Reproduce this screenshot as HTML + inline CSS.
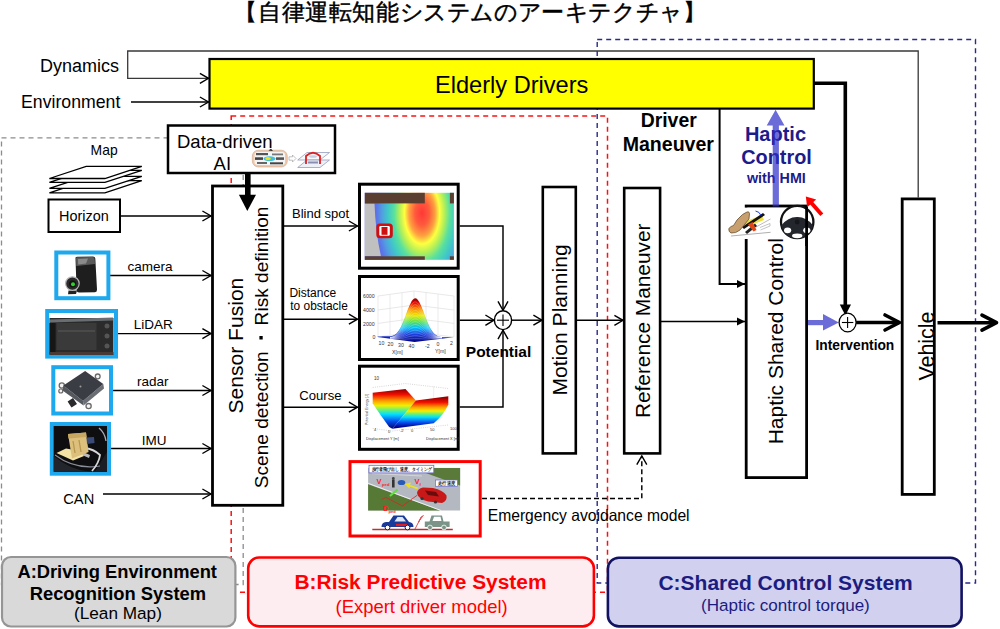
<!DOCTYPE html><html lang="ja"><head><meta charset="utf-8"><title>Architecture</title><style>
html,body{margin:0;padding:0;background:#fff;width:1000px;height:629px;overflow:hidden}svg{display:block}
text{font-family:"Liberation Sans", sans-serif}
</style></head><body>
<svg width="1000" height="629" viewBox="0 0 1000 629">
<defs><radialGradient id="heat" cx="422" cy="213" r="50" gradientUnits="userSpaceOnUse" gradientTransform="translate(422 213) scale(1 1.76) translate(-422 -213)"><stop offset="0" stop-color="#ff3838"/><stop offset="0.14" stop-color="#ff5a3c"/><stop offset="0.26" stop-color="#ffa040"/><stop offset="0.35" stop-color="#ffff40"/><stop offset="0.45" stop-color="#b4f058"/><stop offset="0.56" stop-color="#58e0a0"/><stop offset="0.68" stop-color="#40c8c8"/><stop offset="0.8" stop-color="#50a0e0"/><stop offset="0.9" stop-color="#5a78e8"/><stop offset="1" stop-color="#6262e4"/></radialGradient><linearGradient id="jetv" x1="0" y1="0" x2="0" y2="1"><stop offset="0" stop-color="#8b0000"/><stop offset="0.12" stop-color="#e01010"/><stop offset="0.28" stop-color="#ff8000"/><stop offset="0.42" stop-color="#f0f000"/><stop offset="0.55" stop-color="#40e080"/><stop offset="0.68" stop-color="#00c8ff"/><stop offset="0.85" stop-color="#1050f0"/><stop offset="1" stop-color="#000090"/></linearGradient><linearGradient id="jetg" x1="0" y1="298" x2="0" y2="342" gradientUnits="userSpaceOnUse"><stop offset="0" stop-color="#800000"/><stop offset="0.1" stop-color="#e00000"/><stop offset="0.25" stop-color="#ff8c00"/><stop offset="0.4" stop-color="#e8e800"/><stop offset="0.55" stop-color="#50e060"/><stop offset="0.68" stop-color="#00c0ff"/><stop offset="0.82" stop-color="#2040e0"/><stop offset="1" stop-color="#000080"/></linearGradient><linearGradient id="jetL" x1="0" y1="390" x2="0" y2="429" gradientUnits="userSpaceOnUse"><stop offset="0" stop-color="#a00000"/><stop offset="0.12" stop-color="#f01000"/><stop offset="0.28" stop-color="#ffa000"/><stop offset="0.4" stop-color="#f0f000"/><stop offset="0.52" stop-color="#60f080"/><stop offset="0.62" stop-color="#00e0ff"/><stop offset="0.8" stop-color="#0050f0"/><stop offset="1" stop-color="#000070"/></linearGradient><linearGradient id="jetR" x1="0" y1="398" x2="0" y2="427" gradientUnits="userSpaceOnUse"><stop offset="0" stop-color="#a00000"/><stop offset="0.15" stop-color="#f01000"/><stop offset="0.32" stop-color="#ffa000"/><stop offset="0.45" stop-color="#f0f000"/><stop offset="0.56" stop-color="#60f080"/><stop offset="0.66" stop-color="#00e0ff"/><stop offset="0.84" stop-color="#0050f0"/><stop offset="1" stop-color="#000090"/></linearGradient></defs>
<text y="20" font-size="22.5" font-weight="normal" fill="#000" stroke="#000" stroke-width="0.45"><tspan x="234.4">【</tspan><tspan x="258.0">自</tspan><tspan x="281.6">律</tspan><tspan x="305.2">運</tspan><tspan x="328.8">転</tspan><tspan x="352.4">知</tspan><tspan x="376.0">能</tspan><tspan x="399.6">シ</tspan><tspan x="423.2">ス</tspan><tspan x="446.8">テ</tspan><tspan x="470.4">ム</tspan><tspan x="494.0">の</tspan><tspan x="517.6">ア</tspan><tspan x="541.2">ー</tspan><tspan x="564.8">キ</tspan><tspan x="588.4">テ</tspan><tspan x="612.0">ク</tspan><tspan x="635.6">チ</tspan><tspan x="659.2">ャ</tspan><tspan x="682.8">】</tspan></text>
<rect x="1.5" y="137.8" width="241.7" height="446.7" rx="0" fill="none" stroke="#8c8c8c" stroke-width="1.3" stroke-dasharray="5 4"/>
<rect x="231.2" y="116" width="376.3" height="476.20000000000005" rx="0" fill="none" stroke="#ff1010" stroke-width="1.5" stroke-dasharray="5 4"/>
<rect x="597.2" y="39.5" width="378.29999999999995" height="543.5" rx="0" fill="none" stroke="#2a2a8a" stroke-width="1.4" stroke-dasharray="5 4"/>
<polyline points="208.5,78.3 127.7,78.3 127.7,51 918.2,51 918.2,197.5" fill="none" stroke="#383838" stroke-width="1.3" />
<path d="M199.9 73.3 L208.5 78.3 L199.9 83.3" fill="none" stroke="#000" stroke-width="1.4"/>
<line x1="131" y1="102" x2="208.5" y2="102" stroke="#000" stroke-width="1.45" />
<path d="M199.9 97 L208.5 102 L199.9 107" fill="none" stroke="#000" stroke-width="1.4"/>
<text x="40" y="71.7" font-size="18" font-weight="normal" fill="#000" text-anchor="start" >Dynamics</text>
<text x="21" y="107.5" font-size="17.7" font-weight="normal" fill="#000" text-anchor="start" >Environment</text>
<rect x="209.5" y="59" width="604.3" height="49.599999999999994" rx="0" fill="#ffff00" stroke="#000" stroke-width="2.2"/>
<text x="435" y="93" font-size="23.6" font-weight="normal" fill="#000" text-anchor="start" >Elderly Drivers</text>
<rect x="168" y="125.5" width="167" height="47.5" rx="0" fill="#fff" stroke="#000" stroke-width="2.5"/>
<text x="177" y="148.3" font-size="18.5" font-weight="normal" fill="#000" text-anchor="start" >Data-driven</text>
<text x="213.6" y="169.5" font-size="18.5" font-weight="normal" fill="#000" text-anchor="start" >AI</text>
<g><rect x="252.3" y="150.2" width="35" height="16.8" rx="6" fill="#f3c8a8" stroke="#c8a890" stroke-width="0.6"/><rect x="254.5" y="152" width="30.5" height="13" rx="3" fill="#f4f4f4"/><rect x="256" y="153" width="12" height="2.2" fill="#555"/><rect x="272" y="153.5" width="11" height="1.8" fill="#777"/><rect x="255" y="157.3" width="8" height="2.6" fill="#444"/><rect x="276" y="157.3" width="8" height="2.6" fill="#555"/><rect x="257" y="162" width="10" height="2" fill="#666"/><rect x="270" y="162.3" width="13" height="2" fill="#444"/><ellipse cx="269.5" cy="158.7" rx="6" ry="2.4" fill="#40c0e0"/><ellipse cx="268" cy="158.5" rx="2.8" ry="1.6" fill="#f0e020"/><path d="M268.5 150.5 L271 148.8 L273 151" fill="#222"/><path d="M289 156.8 L292.5 156.8 L292.5 155 L296 158.5 L292.5 162 L292.5 160.2 L289 160.2 Z" fill="#fff" stroke="#999" stroke-width="0.6"/><path d="M297.7 160 L307 152.5 L329.5 152.5 L320 160 Z" fill="#f6f8fc" stroke="#8890b0" stroke-width="0.7"/><path d="M297.7 167.5 L307 160 L329.5 160 L320 167.5 Z" fill="#eef0f8" stroke="#8890b0" stroke-width="0.7"/><path d="M306 164 L306 156 Q313 149.5 320 156 L320 164" fill="none" stroke="#e02020" stroke-width="1.8"/><ellipse cx="313" cy="156.5" rx="4" ry="1.3" fill="#c8cce0"/><rect x="308" y="161.5" width="10" height="2" fill="#8890b0"/></g>
<path d="M49.4 192.8 L86.2 180.70000000000002 L141.8 180.70000000000002 L104.9 192.8 Z" fill="#fff" stroke="#000" stroke-width="1.3"/>
<path d="M49.4 188.4 L86.2 176.3 L141.8 176.3 L104.9 188.4 Z" fill="#fff" stroke="#000" stroke-width="1.3"/>
<path d="M49.4 182.4 L86.2 170.3 L141.8 170.3 L104.9 182.4 Z" fill="#fff" stroke="#000" stroke-width="1.3"/>
<path d="M49.4 178.5 L86.2 166.4 L141.8 166.4 L104.9 178.5 Z" fill="#fff" stroke="#000" stroke-width="1.3"/>
<text x="90.6" y="155.4" font-size="13.9" font-weight="normal" fill="#000" text-anchor="start" >Map</text>
<rect x="48.5" y="199.5" width="71.5" height="32.5" rx="0" fill="#fff" stroke="#000" stroke-width="2"/>
<text x="59.1" y="221" font-size="14.45" font-weight="normal" fill="#000" text-anchor="start" >Horizon</text>
<rect x="212.5" y="186" width="70.30000000000001" height="319.3" rx="0" fill="#fff" stroke="#000" stroke-width="2.8"/>
<text transform="translate(243.1 413.5) rotate(-90)" x="0" y="0" font-size="21.07" font-weight="normal" fill="#000" >Sensor Fusion</text>
<text transform="translate(267.7 488.2) rotate(-90)" x="0" y="0" font-size="19.1" font-weight="normal" fill="#000" >Scene detection</text>
<text transform="translate(267.7 325.4) rotate(-90)" x="0" y="0" font-size="19.1" font-weight="normal" fill="#000" >Risk definition</text>
<rect x="259.4" y="336" width="3.3" height="3.5" fill="#000"/>
<line x1="121" y1="216" x2="211" y2="216" stroke="#000" stroke-width="1.45" />
<path d="M202.4 211 L211 216 L202.4 221" fill="none" stroke="#000" stroke-width="1.4"/>
<line x1="110" y1="275.5" x2="211" y2="275.5" stroke="#000" stroke-width="1.45" />
<path d="M202.4 270.5 L211 275.5 L202.4 280.5" fill="none" stroke="#000" stroke-width="1.4"/>
<text x="127.4" y="270.5" font-size="13.5" font-weight="normal" fill="#000" text-anchor="start" >camera</text>
<line x1="118" y1="333.6" x2="211" y2="333.6" stroke="#000" stroke-width="1.45" />
<path d="M202.4 328.6 L211 333.6 L202.4 338.6" fill="none" stroke="#000" stroke-width="1.4"/>
<text x="133.8" y="329.3" font-size="13.5" font-weight="normal" fill="#000" text-anchor="start" >LiDAR</text>
<line x1="113" y1="390.5" x2="211" y2="390.5" stroke="#000" stroke-width="1.45" />
<path d="M202.4 385.5 L211 390.5 L202.4 395.5" fill="none" stroke="#000" stroke-width="1.4"/>
<text x="137" y="385.5" font-size="13.5" font-weight="normal" fill="#000" text-anchor="start" >radar</text>
<line x1="111" y1="448.5" x2="211" y2="448.5" stroke="#000" stroke-width="1.45" />
<path d="M202.4 443.5 L211 448.5 L202.4 453.5" fill="none" stroke="#000" stroke-width="1.4"/>
<text x="141.7" y="444.7" font-size="13.5" font-weight="normal" fill="#000" text-anchor="start" >IMU</text>
<line x1="103" y1="494" x2="211" y2="494" stroke="#000" stroke-width="1.45" />
<path d="M202.4 489 L211 494 L202.4 499" fill="none" stroke="#000" stroke-width="1.4"/>
<text x="63.3" y="503.8" font-size="14.65" font-weight="normal" fill="#000" text-anchor="start" >CAN</text>
<rect x="56.3" y="252.5" width="52.10000000000001" height="45.69999999999999" rx="0" fill="#fff" stroke="#1ea8ee" stroke-width="4"/>
<rect x="47.2" y="311" width="68.8" height="45.60000000000002" rx="0" fill="#fff" stroke="#1ea8ee" stroke-width="4"/>
<rect x="53.3" y="367.2" width="57.7" height="46.30000000000001" rx="0" fill="#fff" stroke="#1ea8ee" stroke-width="4"/>
<rect x="51.8" y="424" width="57.2" height="49.69999999999999" rx="0" fill="#1a1a1a" stroke="#1ea8ee" stroke-width="4"/>
<g><path d="M75.5 258.5 Q75 256.8 77 256.8 L93 256.6 Q95 256.6 95.3 258.5 L97 289.5 Q97.2 292 95 292.2 L79 292.5 Q76.8 292.5 76.6 290.3 Z" fill="#1e1e1e"/><path d="M76 258.5 Q76 257.2 77.5 257.2 L92.5 257 Q94.5 257 94.7 259 L95 264 L76.3 266 Z" fill="#5a5a5a"/><path d="M78 259 L88 258.6 L86 263.5 L78.2 264.5 Z" fill="#8a8a8a"/><path d="M68.5 290.5 L77 290.5 L76 294 L68 294.3 Z" fill="#222"/><circle cx="72.4" cy="283.6" r="6.8" fill="#2a2a2a" stroke="#b8b8b8" stroke-width="1.2"/><circle cx="72.6" cy="283.8" r="3.6" fill="#101410"/><circle cx="73" cy="284.2" r="2" fill="#30d030"/></g>
<g><rect x="49.5" y="318" width="64" height="37" fill="#2b2b2b"/><path d="M50 319.5 L113 317.5 L113 320.5 L50 322.5 Z" fill="#6a6e72"/><rect x="56.5" y="323" width="40" height="27" fill="#3a3a3a"/><rect x="58" y="330" width="37" height="2" fill="#4a4a4a"/><rect x="49.5" y="323" width="6" height="31" fill="#161616"/><circle cx="107" cy="326" r="2.5" fill="#555"/><circle cx="107" cy="336" r="2.5" fill="#555"/><circle cx="107" cy="346" r="2.5" fill="#555"/><rect x="49.5" y="352" width="64" height="3" fill="#4a3a36"/></g>
<g><circle cx="61.8" cy="385.5" r="2.6" fill="#f4f4f4" stroke="#6a6a6a" stroke-width="1.3"/><circle cx="60.8" cy="391" r="2" fill="#f4f4f4" stroke="#6a6a6a" stroke-width="1.2"/><circle cx="97.7" cy="376.4" r="2.4" fill="#f4f4f4" stroke="#6a6a6a" stroke-width="1.3"/><circle cx="88.6" cy="406.1" r="2.6" fill="#f4f4f4" stroke="#6a6a6a" stroke-width="1.3"/><path d="M63.4 385.5 L83 400.9 L83.5 405.5 L62.5 390.5 Z" fill="#55585e"/><path d="M83 400.9 L103.3 384.1 L104 388.5 L83.5 405.5 Z" fill="#6a6e74"/><path d="M85.1 371.1 L103.3 384.1 L83 400.9 L63.4 385.5 Z" fill="#3a3d43"/><path d="M67.6 401.6 L73 398 L77 404 L71.5 407.4 Z" fill="#2a2a2c"/><circle cx="80.5" cy="386.5" r="1" fill="#9a9a9a"/></g>
<g><rect x="53.8" y="426" width="53.2" height="45.7" fill="#0e0e10"/><path d="M53.8 456 Q70 470 90 471.7 L53.8 471.7 Z" fill="#23252c"/><path d="M95 471.7 Q102 460 107 452 L107 471.7 Z" fill="#1c1e26"/><path d="M55 455 Q75 470 100 466" fill="none" stroke="#8a8e98" stroke-width="1.1"/><path d="M84 448 Q94 449 100 455 Q99 463 92 471" fill="none" stroke="#d8d8d8" stroke-width="1.8"/><path d="M83 452 L90 455 L89 458 L82 455 Z" fill="#bbb"/><path d="M56.5 453 L66 448.5 L80 451 L84 456 L73 460.5 Z" fill="#f2e2a4"/><path d="M68 434 L86 432.5 L88.6 452 L72 458.4 Z" fill="#dcc07c"/><path d="M68 434 L86 432.5 L86.5 437 L68.5 438.5 Z" fill="#c8a860"/><path d="M86.5 437.5 L94 437 L94.5 443 L87 444 Z" fill="#3a4a78"/><path d="M73 441 L75 453 M79 440 L81 452" stroke="#b89850" stroke-width="1.3"/><path d="M99 428 Q105 433 106 441" fill="none" stroke="#aab" stroke-width="1.3"/></g>
<rect x="245" y="173" width="5.6" height="22" fill="#000"/>
<path d="M238.9 194.8 L256 194.8 L247.3 211 Z" fill="#000"/>
<rect x="359.5" y="184.2" width="98.69999999999999" height="84.0" rx="0" fill="#fff" stroke="#000" stroke-width="3"/>
<rect x="359.5" y="276.5" width="98.69999999999999" height="83.0" rx="0" fill="#fff" stroke="#000" stroke-width="3"/>
<rect x="359.5" y="366.2" width="98.69999999999999" height="83.10000000000002" rx="0" fill="#fff" stroke="#000" stroke-width="3"/>
<rect x="350" y="461.6" width="130.2" height="74.39999999999998" rx="0" fill="#fff" stroke="#ff0000" stroke-width="3"/>
<g><rect x="364.8" y="192.8" width="89.1" height="67" fill="url(#heat)"/><path d="M364.8 203.4 L374.5 203.4 Q375.5 232 381 256.3 L364.8 256.3 Z" fill="#c0c0c0"/><rect x="364.8" y="192.8" width="60" height="10.6" fill="#5a3e30"/><rect x="449.9" y="192.8" width="4" height="10.6" fill="#5a3e30"/><rect x="364.8" y="256.3" width="60" height="3.5" fill="#5a3e30"/><rect x="449.9" y="256.3" width="4" height="3.5" fill="#5a3e30"/><rect x="376.3" y="223.5" width="16.5" height="14.7" rx="3.5" fill="#d01010"/><rect x="379.3" y="226" width="10.5" height="9.8" rx="1.2" fill="#fff"/><rect x="381.5" y="227" width="6" height="7.8" fill="#d01010"/></g>
<g font-family="Liberation Serif, serif" font-size="5.2" fill="#333"><path d="M378 296 L414 291 L454 296" fill="none" stroke="#d8d8d8" stroke-width="0.6"/><path d="M378 310 L414 305 L454 310" fill="none" stroke="#d8d8d8" stroke-width="0.6"/><path d="M378 323.4 L414 318.4 L454 323.4" fill="none" stroke="#d8d8d8" stroke-width="0.6"/><path d="M378 337 L414 332 L454 337" fill="none" stroke="#d8d8d8" stroke-width="0.6"/><line x1="378" y1="296" x2="378" y2="337" stroke="#dedede" stroke-width="0.6"/><line x1="390" y1="294.4" x2="390" y2="335.4" stroke="#dedede" stroke-width="0.6"/><line x1="402" y1="292.7" x2="402" y2="333.7" stroke="#dedede" stroke-width="0.6"/><line x1="414" y1="291" x2="414" y2="332" stroke="#dedede" stroke-width="0.6"/><line x1="426" y1="292.5" x2="426" y2="333.5" stroke="#dedede" stroke-width="0.6"/><line x1="438" y1="294" x2="438" y2="335" stroke="#dedede" stroke-width="0.6"/><line x1="454" y1="296" x2="454" y2="337" stroke="#dedede" stroke-width="0.6"/><text x="363" y="298">6000</text><text x="363" y="312">4000</text><text x="363" y="325.5">2000</text><text x="372.5" y="339">0</text><text x="378.5" y="344.5">10</text><text x="387.5" y="346">20</text><text x="398" y="347">30</text><text x="408.5" y="348">40</text><text x="425" y="347.5">-2</text><text x="436.5" y="346">0</text><text x="450" y="344.5">2</text><text x="392" y="353.5">X[m]</text><text x="435" y="352.5">Y[m]</text><path d="M377.4 336.7 L378.7 336.6 L379.9 336.5 L381.2 336.4 L382.5 336.3 L383.8 336.2 L385.0 336.2 L386.3 336.2 L387.6 336.3 L388.8 336.3 L390.1 336.2 L391.4 336.1 L392.7 335.8 L393.9 335.3 L395.2 334.5 L396.5 333.4 L397.7 332.0 L399.0 330.2 L400.3 328.0 L401.6 325.4 L402.8 322.6 L404.1 319.4 L405.4 316.1 L406.6 312.7 L407.9 309.3 L409.2 306.2 L410.5 303.4 L411.7 301.1 L413.0 299.4 L414.3 298.4 L415.5 298.2 L416.8 298.8 L418.1 300.2 L419.4 302.2 L420.6 304.8 L421.9 307.7 L423.2 311.0 L424.5 314.4 L425.7 317.8 L427.0 321.0 L428.3 324.0 L429.5 326.7 L430.8 329.1 L432.1 331.1 L433.4 332.7 L434.6 334.1 L435.9 335.1 L437.2 335.8 L438.4 336.4 L439.7 336.8 L441.0 337.0 L442.3 337.2 L443.5 337.3 L444.8 337.3 L446.1 337.3 L447.3 337.3 L448.6 337.3 L449.9 337.2 L451.2 337.2 L452.4 337.2 L453.7 337.2 L453.7 337.3 L414.6 342 L377.4 337 Z" fill="url(#jetg)"/><path d="M390.0 338.2 L391.3 338.4 L392.6 338.5 L393.9 338.7 L395.2 338.8 L396.5 338.9 L397.8 339.0 L399.1 339.1 L400.4 339.2 L401.7 339.2 L403.0 339.2 L404.3 339.2 L405.6 339.2 L406.9 339.1 L408.2 339.0 L409.5 338.9 L410.8 338.8 L412.1 338.8 L413.4 338.7 L414.7 338.7 L416.0 338.7 L417.3 338.7 L418.6 338.7 L419.9 338.8 L421.2 338.8 L422.5 338.9 L423.8 338.9 L425.1 339.0 L426.4 339.0 L427.7 339.0 L429.0 339.0 L430.3 339.0 L431.6 338.9 L432.9 338.8 L434.2 338.7 L435.5 338.6 L436.8 338.4 L438.1 338.3 L439.4 338.2 L440.7 338.0 L442.0 337.9" fill="none" stroke="#fff" stroke-opacity="0.5" stroke-width="0.45"/><path d="M390.0 338.2 L391.3 338.3 L392.6 338.4 L393.9 338.5 L395.2 338.5 L396.5 338.6 L397.8 338.6 L399.1 338.5 L400.4 338.4 L401.7 338.3 L403.0 338.1 L404.3 337.8 L405.6 337.5 L406.9 337.2 L408.2 336.9 L409.5 336.6 L410.8 336.3 L412.1 336.1 L413.4 335.9 L414.7 335.8 L416.0 335.8 L417.3 335.9 L418.6 336.1 L419.9 336.3 L421.2 336.5 L422.5 336.8 L423.8 337.1 L425.1 337.4 L426.4 337.7 L427.7 337.9 L429.0 338.1 L430.3 338.2 L431.6 338.3 L432.9 338.4 L434.2 338.4 L435.5 338.3 L436.8 338.3 L438.1 338.2 L439.4 338.1 L440.7 338.0 L442.0 337.9" fill="none" stroke="#fff" stroke-opacity="0.5" stroke-width="0.45"/><path d="M390.0 338.1 L391.3 338.2 L392.6 338.2 L393.9 338.3 L395.2 338.3 L396.5 338.2 L397.8 338.1 L399.1 337.9 L400.4 337.6 L401.7 337.3 L403.0 336.9 L404.3 336.4 L405.6 335.9 L406.9 335.3 L408.2 334.8 L409.5 334.3 L410.8 333.8 L412.1 333.4 L413.4 333.1 L414.7 333.0 L416.0 333.0 L417.3 333.2 L418.6 333.4 L419.9 333.8 L421.2 334.2 L422.5 334.8 L423.8 335.3 L425.1 335.8 L426.4 336.3 L427.7 336.8 L429.0 337.2 L430.3 337.5 L431.6 337.7 L432.9 337.9 L434.2 338.0 L435.5 338.1 L436.8 338.1 L438.1 338.1 L439.4 338.0 L440.7 337.9 L442.0 337.8" fill="none" stroke="#fff" stroke-opacity="0.5" stroke-width="0.45"/><path d="M390.0 338.0 L391.3 338.1 L392.6 338.1 L393.9 338.1 L395.2 338.0 L396.5 337.9 L397.8 337.6 L399.1 337.3 L400.4 336.9 L401.7 336.3 L403.0 335.7 L404.3 335.0 L405.6 334.2 L406.9 333.4 L408.2 332.7 L409.5 331.9 L410.8 331.3 L412.1 330.7 L413.4 330.4 L414.7 330.2 L416.0 330.2 L417.3 330.4 L418.6 330.8 L419.9 331.3 L421.2 332.0 L422.5 332.7 L423.8 333.5 L425.1 334.2 L426.4 335.0 L427.7 335.7 L429.0 336.3 L430.3 336.8 L431.6 337.2 L432.9 337.5 L434.2 337.7 L435.5 337.8 L436.8 337.9 L438.1 337.9 L439.4 337.9 L440.7 337.9 L442.0 337.8" fill="none" stroke="#fff" stroke-opacity="0.5" stroke-width="0.45"/><path d="M390.0 338.0 L391.3 338.0 L392.6 338.0 L393.9 337.9 L395.2 337.7 L396.5 337.5 L397.8 337.1 L399.1 336.7 L400.4 336.1 L401.7 335.4 L403.0 334.5 L404.3 333.6 L405.6 332.6 L406.9 331.6 L408.2 330.5 L409.5 329.6 L410.8 328.7 L412.1 328.1 L413.4 327.6 L414.7 327.4 L416.0 327.4 L417.3 327.6 L418.6 328.1 L419.9 328.8 L421.2 329.7 L422.5 330.6 L423.8 331.6 L425.1 332.7 L426.4 333.6 L427.7 334.5 L429.0 335.3 L430.3 336.0 L431.6 336.6 L432.9 337.0 L434.2 337.4 L435.5 337.6 L436.8 337.7 L438.1 337.8 L439.4 337.8 L440.7 337.8 L442.0 337.8" fill="none" stroke="#fff" stroke-opacity="0.5" stroke-width="0.45"/><path d="M390.0 337.9 L391.3 337.9 L392.6 337.8 L393.9 337.7 L395.2 337.5 L396.5 337.1 L397.8 336.7 L399.1 336.1 L400.4 335.3 L401.7 334.4 L403.0 333.4 L404.3 332.2 L405.6 331.0 L406.9 329.7 L408.2 328.4 L409.5 327.2 L410.8 326.2 L412.1 325.4 L413.4 324.8 L414.7 324.5 L416.0 324.5 L417.3 324.9 L418.6 325.5 L419.9 326.3 L421.2 327.4 L422.5 328.6 L423.8 329.8 L425.1 331.1 L426.4 332.3 L427.7 333.4 L429.0 334.4 L430.3 335.3 L431.6 336.0 L432.9 336.6 L434.2 337.0 L435.5 337.3 L436.8 337.6 L438.1 337.7 L439.4 337.7 L440.7 337.7 L442.0 337.7" fill="none" stroke="#fff" stroke-opacity="0.5" stroke-width="0.45"/><path d="M390.0 337.8 L391.3 337.8 L392.6 337.7 L393.9 337.5 L395.2 337.2 L396.5 336.8 L397.8 336.2 L399.1 335.5 L400.4 334.5 L401.7 333.4 L403.0 332.2 L404.3 330.8 L405.6 329.3 L406.9 327.8 L408.2 326.3 L409.5 324.9 L410.8 323.7 L412.1 322.7 L413.4 322.0 L414.7 321.7 L416.0 321.7 L417.3 322.1 L418.6 322.8 L419.9 323.8 L421.2 325.1 L422.5 326.5 L423.8 328.0 L425.1 329.5 L426.4 330.9 L427.7 332.3 L429.0 333.5 L430.3 334.6 L431.6 335.4 L432.9 336.1 L434.2 336.7 L435.5 337.1 L436.8 337.4 L438.1 337.5 L439.4 337.6 L440.7 337.7 L442.0 337.7" fill="none" stroke="#fff" stroke-opacity="0.5" stroke-width="0.45"/><path d="M390.0 337.8 L391.3 337.7 L392.6 337.6 L393.9 337.3 L395.2 336.9 L396.5 336.4 L397.8 335.7 L399.1 334.8 L400.4 333.8 L401.7 332.5 L403.0 331.0 L404.3 329.4 L405.6 327.7 L406.9 325.9 L408.2 324.2 L409.5 322.6 L410.8 321.2 L412.1 320.0 L413.4 319.3 L414.7 318.9 L416.0 318.9 L417.3 319.3 L418.6 320.2 L419.9 321.4 L421.2 322.8 L422.5 324.4 L423.8 326.1 L425.1 327.9 L426.4 329.6 L427.7 331.2 L429.0 332.6 L430.3 333.8 L431.6 334.9 L432.9 335.7 L434.2 336.4 L435.5 336.8 L436.8 337.2 L438.1 337.4 L439.4 337.6 L440.7 337.6 L442.0 337.6" fill="none" stroke="#fff" stroke-opacity="0.5" stroke-width="0.45"/><path d="M390.0 337.7 L391.3 337.6 L392.6 337.4 L393.9 337.1 L395.2 336.7 L396.5 336.1 L397.8 335.3 L399.1 334.2 L400.4 333.0 L401.7 331.5 L403.0 329.8 L404.3 328.0 L405.6 326.0 L406.9 324.0 L408.2 322.1 L409.5 320.2 L410.8 318.6 L412.1 317.4 L413.4 316.5 L414.7 316.0 L416.0 316.1 L417.3 316.6 L418.6 317.5 L419.9 318.9 L421.2 320.5 L422.5 322.4 L423.8 324.3 L425.1 326.3 L426.4 328.2 L427.7 330.0 L429.0 331.7 L430.3 333.1 L431.6 334.3 L432.9 335.3 L434.2 336.0 L435.5 336.6 L436.8 337.0 L438.1 337.3 L439.4 337.5 L440.7 337.6 L442.0 337.6" fill="none" stroke="#fff" stroke-opacity="0.5" stroke-width="0.45"/><path d="M390.0 337.6 L391.3 337.5 L392.6 337.3 L393.9 336.9 L395.2 336.4 L396.5 335.7 L397.8 334.8 L399.1 333.6 L400.4 332.2 L401.7 330.6 L403.0 328.7 L404.3 326.6 L405.6 324.4 L406.9 322.1 L408.2 319.9 L409.5 317.9 L410.8 316.1 L412.1 314.7 L413.4 313.7 L414.7 313.2 L416.0 313.3 L417.3 313.8 L418.6 314.9 L419.9 316.4 L421.2 318.2 L422.5 320.3 L423.8 322.5 L425.1 324.7 L426.4 326.9 L427.7 328.9 L429.0 330.8 L430.3 332.4 L431.6 333.7 L432.9 334.8 L434.2 335.7 L435.5 336.4 L436.8 336.8 L438.1 337.2 L439.4 337.4 L440.7 337.5 L442.0 337.5" fill="none" stroke="#fff" stroke-opacity="0.5" stroke-width="0.45"/><path d="M390.0 337.6 L391.3 337.4 L392.6 337.1 L393.9 336.7 L395.2 336.1 L396.5 335.4 L397.8 334.3 L399.1 333.0 L400.4 331.4 L401.7 329.6 L403.0 327.5 L404.3 325.2 L405.6 322.7 L406.9 320.2 L408.2 317.8 L409.5 315.5 L410.8 313.6 L412.1 312.0 L413.4 310.9 L414.7 310.4 L416.0 310.4 L417.3 311.1 L418.6 312.2 L419.9 313.9 L421.2 315.9 L422.5 318.2 L423.8 320.7 L425.1 323.1 L426.4 325.5 L427.7 327.8 L429.0 329.8 L430.3 331.6 L431.6 333.1 L432.9 334.4 L434.2 335.4 L435.5 336.1 L436.8 336.7 L438.1 337.0 L439.4 337.3 L440.7 337.4 L442.0 337.5" fill="none" stroke="#fff" stroke-opacity="0.5" stroke-width="0.45"/><path d="M390.0 337.5 L391.3 337.3 L392.6 337.0 L393.9 336.5 L395.2 335.9 L396.5 335.0 L397.8 333.8 L399.1 332.4 L400.4 330.7 L401.7 328.6 L403.0 326.3 L404.3 323.8 L405.6 321.1 L406.9 318.4 L408.2 315.7 L409.5 313.2 L410.8 311.0 L412.1 309.3 L413.4 308.1 L414.7 307.6 L416.0 307.6 L417.3 308.3 L418.6 309.6 L419.9 311.4 L421.2 313.6 L422.5 316.2 L423.8 318.8 L425.1 321.5 L426.4 324.2 L427.7 326.7 L429.0 328.9 L430.3 330.9 L431.6 332.6 L432.9 333.9 L434.2 335.0 L435.5 335.9 L436.8 336.5 L438.1 336.9 L439.4 337.2 L440.7 337.4 L442.0 337.5" fill="none" stroke="#fff" stroke-opacity="0.5" stroke-width="0.45"/><path d="M390.0 337.4 L391.3 337.2 L392.6 336.9 L393.9 336.3 L395.2 335.6 L396.5 334.6 L397.8 333.4 L399.1 331.8 L400.4 329.9 L401.7 327.7 L403.0 325.1 L404.3 322.4 L405.6 319.5 L406.9 316.5 L408.2 313.6 L409.5 310.9 L410.8 308.5 L412.1 306.6 L413.4 305.4 L414.7 304.7 L416.0 304.8 L417.3 305.5 L418.6 307.0 L419.9 308.9 L421.2 311.3 L422.5 314.1 L423.8 317.0 L425.1 320.0 L426.4 322.8 L427.7 325.5 L429.0 328.0 L430.3 330.1 L431.6 332.0 L432.9 333.5 L434.2 334.7 L435.5 335.6 L436.8 336.3 L438.1 336.8 L439.4 337.1 L440.7 337.3 L442.0 337.4" fill="none" stroke="#fff" stroke-opacity="0.5" stroke-width="0.45"/><path d="M390.0 337.4 L391.3 337.1 L392.6 336.7 L393.9 336.1 L395.2 335.3 L396.5 334.3 L397.8 332.9 L399.1 331.2 L400.4 329.1 L401.7 326.7 L403.0 324.0 L404.3 321.0 L405.6 317.8 L406.9 314.6 L408.2 311.5 L409.5 308.5 L410.8 306.0 L412.1 304.0 L413.4 302.6 L414.7 301.9 L416.0 302.0 L417.3 302.8 L418.6 304.3 L419.9 306.4 L421.2 309.1 L422.5 312.0 L423.8 315.2 L425.1 318.4 L426.4 321.5 L427.7 324.4 L429.0 327.1 L430.3 329.4 L431.6 331.4 L432.9 333.0 L434.2 334.3 L435.5 335.4 L436.8 336.1 L438.1 336.7 L439.4 337.0 L440.7 337.3 L442.0 337.4" fill="none" stroke="#fff" stroke-opacity="0.5" stroke-width="0.45"/></g>
<g font-family="Liberation Serif, serif" font-size="4" fill="#333"><path d="M372.7 387.5 L405 383.5 L448.3 388.5" fill="none" stroke="#bbb" stroke-width="0.6" stroke-dasharray="1 1.2"/><line x1="433.7" y1="386" x2="433.7" y2="423" stroke="#ddd" stroke-width="0.5"/><path d="M372.7 428.5 L392.4 431 L448.3 425" fill="none" stroke="#bbb" stroke-width="0.6" stroke-dasharray="1 1.2"/><text x="374" y="380" font-size="4.5">10</text><text transform="translate(368 425) rotate(-90)" font-size="3.6">Potential Energy [J]</text><text x="366" y="439.5" font-size="3.8">Displacement Y [m]</text><text x="426" y="439.5" font-size="3.8">Displacement X [m]</text><text x="374" y="431" >4</text><text x="388" y="432.5">0</text><text x="400" y="431.5">-2</text><text x="411" y="432">0</text><text x="430" y="431">50</text><text x="450" y="430">100</text><path d="M372.7 392.8 L405.5 389 L415.9 400.4 L392.4 428.7 L389.2 427.1 Q381 416 372.7 403.6 Z" fill="url(#jetL)"/><path d="M415.9 400.4 L448.3 396.2 L448.3 404.8 Q443 416 433.7 423.3 L392.4 428.7 Z" fill="url(#jetR)"/></g>
<g><rect x="368.1" y="467.9" width="92" height="42.6" fill="#b4b8c0"/><path d="M412 467.9 L460.1 467.9 L460.1 485.5 Z" fill="#5a7a3a"/><path d="M368.1 484.3 L440.2 510.5 L368.1 510.5 Z" fill="#567a36"/><path d="M372 473.5 L422 476" stroke="#dcdcdc" stroke-width="0.8"/><path d="M368.1 483.3 L441 510.5" stroke="#f0f0f0" stroke-width="1"/><rect x="369" y="465.3" width="64.8" height="7.6" fill="#fff" stroke="#6a6ad0" stroke-width="0.8"/><text x="371.5" y="471.2" font-size="5" font-weight="bold" fill="#222" textLength="60" lengthAdjust="spacingAndGlyphs">歩行者飛び出し 速度、タイミング</text><rect x="435.5" y="480" width="22" height="6.3" fill="#fff" stroke="#6a6ad0" stroke-width="0.7"/><text x="438" y="485.3" font-size="4.5" font-weight="bold" fill="#222" textLength="17" lengthAdjust="spacingAndGlyphs">走行速度</text><path d="M417 493 Q417.5 488.5 423 487.5 L433 488 Q443 490 446.5 495.5 Q447.5 501 442 503 L428 501.5 Q418 499 417 493 Z" fill="#c81818"/><path d="M425 490.5 L436 492 L439 496.5 L428 495 Z" fill="#6a0c0c"/><circle cx="422" cy="498.5" r="1.6" fill="#333"/><circle cx="435.5" cy="502" r="1.6" fill="#333"/><rect x="392" y="479.5" width="2.6" height="8" fill="#333"/><circle cx="393.3" cy="478.5" r="1.4" fill="#444"/><ellipse cx="401.5" cy="482.5" rx="3.8" ry="2.6" fill="#2a5ab8"/><path d="M418 487.5 L410 485 L411 482.5 L404.5 484 L409.5 488.5 L410 486.5 L417.5 489.5 Z" fill="#f0e020"/><path d="M390 496 L397.5 489.5" stroke="#60e040" stroke-width="2.2"/><text x="376.5" y="484" font-size="7.5" font-weight="bold" fill="#ff2020">V</text><text x="382" y="486" font-size="4.2" font-weight="bold" fill="#ff2020">ped</text><text x="414.5" y="484" font-size="7.5" font-weight="bold" fill="#ff2020">V</text><text x="419.5" y="486" font-size="4.2" font-weight="bold" fill="#ff2020">f</text><path d="M381.5 499.5 L386 497.5 L402.5 506 L417.5 495" fill="none" stroke="#e02020" stroke-width="0.8"/><text x="383.3" y="510.8" font-size="7" font-weight="bold" fill="#ff2020">D</text><text x="388.5" y="512.5" font-size="4" font-weight="bold" fill="#ff2020">ped</text><path d="M372.3 529.5 L452.8 529.5" stroke="#c03030" stroke-width="1.3"/><path d="M381.5 527 Q381.5 522.5 386 522 L389 522 L393.5 515.5 L404 515.5 L409 522 Q413.5 522.5 413.5 527 Z" fill="#1a3a9a"/><path d="M394.5 521.5 L397.5 517 L402.5 517 L406 521.5 Z" fill="#dfe8f8"/><path d="M396 525 L407 525" stroke="#e02020" stroke-width="2.2"/><circle cx="387.5" cy="527.5" r="2.4" fill="#fff" stroke="#222" stroke-width="1"/><circle cx="407.5" cy="527.5" r="2.4" fill="#fff" stroke="#222" stroke-width="1"/><path d="M415 529 L421.5 516.5 L418.5 522 L423.5 515" fill="none" stroke="#e05050" stroke-width="1"/><path d="M424.8 527 L424.8 521.5 L429.5 521.5 L431.5 515.5 L442 515.5 L443.5 521.5 L449.6 521.5 L449.6 527 Z" fill="#7a9488"/><path d="M432.5 521 L434 516.8 L440.5 516.8 L441.5 521 Z" fill="#fff"/><circle cx="430" cy="527.5" r="2.4" fill="#7a9488" stroke="#fff" stroke-width="0.8"/><circle cx="444" cy="527.5" r="2.4" fill="#7a9488" stroke="#fff" stroke-width="0.8"/></g>
<text x="292" y="218.3" font-size="13" font-weight="normal" fill="#000" text-anchor="start" >Blind spot</text>
<text x="289.4" y="296.5" font-size="12" font-weight="normal" fill="#000" text-anchor="start" >Distance</text>
<text x="290.3" y="310" font-size="11.9" font-weight="normal" fill="#000" text-anchor="start" >to obstacle</text>
<text x="299.3" y="400" font-size="13.1" font-weight="normal" fill="#000" text-anchor="start" >Course</text>
<line x1="283.5" y1="226" x2="357.5" y2="226" stroke="#000" stroke-width="1.45" />
<path d="M348.9 221 L357.5 226 L348.9 231" fill="none" stroke="#000" stroke-width="1.4"/>
<line x1="283.5" y1="319.2" x2="357.5" y2="319.2" stroke="#000" stroke-width="1.45" />
<path d="M348.9 314.2 L357.5 319.2 L348.9 324.2" fill="none" stroke="#000" stroke-width="1.4"/>
<line x1="283.5" y1="407.2" x2="357.5" y2="407.2" stroke="#000" stroke-width="1.45" />
<path d="M348.9 402.2 L357.5 407.2 L348.9 412.2" fill="none" stroke="#000" stroke-width="1.4"/>
<polyline points="459.7,226 503,226 503,310.8" fill="none" stroke="#000" stroke-width="1.45" />
<path d="M498 301.3 L503 310.3 L508 301.3" fill="none" stroke="#000" stroke-width="1.4"/>
<line x1="459.7" y1="320.2" x2="494.4" y2="320.2" stroke="#000" stroke-width="1.45" />
<path d="M485.4 315.0 L493.9 320.2 L485.4 325.4" fill="none" stroke="#000" stroke-width="1.4"/>
<polyline points="459.7,407 503,407 503,329.59999999999997" fill="none" stroke="#000" stroke-width="1.45" />
<path d="M498 339.09999999999997 L503 330.09999999999997 L508 339.09999999999997" fill="none" stroke="#000" stroke-width="1.4"/>
<ellipse cx="503" cy="320.2" rx="8.6" ry="9.4" fill="#fff" stroke="#000" stroke-width="1.4"/>
<line x1="497" y1="320.2" x2="509" y2="320.2" stroke="#000" stroke-width="1.1" />
<line x1="503" y1="314.4" x2="503" y2="326.0" stroke="#000" stroke-width="1.1" />
<text x="465.8" y="356.8" font-size="15.5" font-weight="bold" fill="#000" text-anchor="start" >Potential</text>
<line x1="511.6" y1="320.2" x2="542" y2="320.2" stroke="#000" stroke-width="1.45" />
<path d="M533.4 315.2 L542 320.2 L533.4 325.2" fill="none" stroke="#000" stroke-width="1.4"/>
<rect x="542.8" y="187" width="33.0" height="266.4" rx="0" fill="#fff" stroke="#000" stroke-width="2.6"/>
<text transform="translate(567.2 395.6) rotate(-90)" x="0" y="0" font-size="21.1" font-weight="normal" fill="#000" >Motion Planning</text>
<line x1="577" y1="320.3" x2="623" y2="320.3" stroke="#000" stroke-width="1.45" />
<path d="M614.4 315.3 L623 320.3 L614.4 325.3" fill="none" stroke="#000" stroke-width="1.4"/>
<rect x="624.2" y="188" width="35.89999999999998" height="265.4" rx="0" fill="#fff" stroke="#000" stroke-width="2.6"/>
<text transform="translate(649.8 418.1) rotate(-90)" x="0" y="0" font-size="20.83" font-weight="normal" fill="#000" >Reference Maneuver</text>
<line x1="661" y1="321.4" x2="745" y2="321.4" stroke="#000" stroke-width="1.45" />
<path d="M737 317.4 L745 321.4 L737 325.4 Z" fill="#000"/>
<polyline points="482,498.5 641.8,498.5 641.8,456" fill="none" stroke="#000" stroke-width="1.45" stroke-dasharray="5 3"/>
<path d="M636.8 464.6 L641.8 456 L646.8 464.6" fill="none" stroke="#000" stroke-width="1.4"/>
<text x="487.7" y="521" font-size="15.66" font-weight="normal" fill="#000" text-anchor="start" >Emergency avoidance model</text>
<text x="640.7" y="127" font-size="19.4" font-weight="bold" fill="#000" text-anchor="start" >Driver</text>
<text x="622.7" y="150.8" font-size="19.56" font-weight="bold" fill="#000" text-anchor="start" >Maneuver</text>
<polyline points="719.6,109 719.6,284 745,284" fill="none" stroke="#000" stroke-width="2" />
<path d="M737 280 L745 284 L737 288 Z" fill="#000"/>
<polyline points="813.8,83.3 845.3,83.3 845.3,306" fill="none" stroke="#000" stroke-width="3.6" />
<path d="M839.8 304.5 L845.4 315.5 L851.0 304.5 Z" fill="#000"/>
<rect x="746.2" y="206" width="60.39999999999998" height="271.6" rx="0" fill="#fff" stroke="#000" stroke-width="2.8"/>
<text transform="translate(783.1 444.3) rotate(-90)" x="0" y="0" font-size="20.96" font-weight="normal" fill="#000" >Haptic Shared Control</text>
<rect x="727" y="207.6" width="21" height="31.4" fill="#fff"/>
<g><path d="M731 236 L770.6 232.3" stroke="#9a9a9a" stroke-width="0.8"/><path d="M756 227 L770.5 219" stroke="#aaa" stroke-width="0.8"/><path d="M743 222 L762 215.5 L764 220 L746 227 Z" fill="#f0e040"/><path d="M742 227 L763 213 L765 215 L744 229 Z" fill="#111"/><path d="M745 232 L755 223.5 L757 226 L747 234 Z" fill="#222"/><path d="M728.8 228.5 Q731 226 733.5 225.5 L737 220 Q743 213 747 212 Q749 211 749.5 213.5 L749 219 L740 230 Q736 233.5 731 233 Q728.5 232 728.8 228.5 Z" fill="#c8a070" stroke="#5a4020" stroke-width="0.7"/><path d="M748 224.5 L752.5 222 L756.5 230 L753.5 231.5 Z" fill="#e04818"/><path d="M755.5 211 Q759.5 211.5 761 215.5" fill="none" stroke="#2040e0" stroke-width="1"/><path d="M760 227.5 L770 223.5 L770 226 L760.5 230" fill="none" stroke="#aaa" stroke-width="0.7"/></g>
<g><circle cx="797.2" cy="222" r="16.2" fill="#fff" stroke="#111" stroke-width="2.3"/><path d="M781.3 225.5 Q788 216.8 797.2 217 Q806.5 216.8 813.1 225.5 A16.2 16.2 0 0 1 781.3 225.5 Z" fill="#23262c"/><ellipse cx="787.6" cy="230.3" rx="3.6" ry="2.9" fill="#fff"/><ellipse cx="806.8" cy="230.3" rx="3.6" ry="2.9" fill="#fff"/><ellipse cx="797.2" cy="235.8" rx="5.2" ry="2.4" fill="#fff"/><circle cx="797.2" cy="222" r="2.4" fill="#15171b"/></g>
<line x1="806.6" y1="206" x2="806.6" y2="246" stroke="#000" stroke-width="2.8" />
<path d="M821.8 214.8 L811 202.5" stroke="#ff0000" stroke-width="4"/>
<path d="M805.8 196.6 L816.2 199.4 L807.2 207.3 Z" fill="#ff0000"/>
<text x="744.9" y="140.7" font-size="20" font-weight="bold" fill="#1c1c8c" text-anchor="start" >Haptic</text>
<text x="741.2" y="163.6" font-size="19.9" font-weight="bold" fill="#1c1c8c" text-anchor="start" >Control</text>
<text x="747" y="182.7" font-size="14.3" font-weight="bold" fill="#1c1c8c" text-anchor="start" >with HMI</text>
<g fill="#2d2dc7" fill-opacity="0.7"><path d="M772.7 206.5 L772.7 125.5 L766.7 125.5 L775.6 109.7 L784.5 125.5 L778.9 125.5 L778.9 206.5 Z"/></g>
<rect x="808" y="320" width="15.5" height="5.2" fill="#6c6cd8"/>
<path d="M823 314 L838.8 322.5 L823 330.5 Z" fill="#6c6cd8"/>
<ellipse cx="847.6" cy="322.5" rx="8.5" ry="9.3" fill="#fff" stroke="#000" stroke-width="1.3"/>
<line x1="841.9" y1="322.5" x2="853.3000000000001" y2="322.5" stroke="#000" stroke-width="1.1" />
<line x1="847.6" y1="317.0" x2="847.6" y2="328.0" stroke="#000" stroke-width="1.1" />
<text x="815.5" y="349.6" font-size="13.77" font-weight="bold" fill="#000" text-anchor="start" >Intervention</text>
<line x1="856.1" y1="322.5" x2="899" y2="322.5" stroke="#000" stroke-width="3.6" />
<path d="M885.0 315.0 L899.5 322.5 L885.0 330.0" fill="none" stroke="#000" stroke-width="3.6" stroke-linecap="round" stroke-linejoin="round"/>
<rect x="902.2" y="198.9" width="32.09999999999991" height="295.5" rx="0" fill="#fff" stroke="#000" stroke-width="2.8"/>
<text transform="translate(934.3 380.6) rotate(-90)" x="0" y="0" font-size="21.45" font-weight="normal" fill="#000" >Vehicle</text>
<line x1="937.5" y1="322.7" x2="996" y2="322.7" stroke="#000" stroke-width="3.6" />
<path d="M982.0 315.2 L996.5 322.7 L982.0 330.2" fill="none" stroke="#000" stroke-width="3.6" stroke-linecap="round" stroke-linejoin="round"/>
<rect x="2" y="557" width="233.4" height="69.5" rx="9" fill="#d9d9d9" stroke="#959595" stroke-width="2.2"/>
<text x="17.4" y="577.5" font-size="18.34" font-weight="bold" fill="#000" text-anchor="start" >A:Driving Environment</text>
<text x="29.7" y="599.5" font-size="18.35" font-weight="bold" fill="#000" text-anchor="start" >Recognition System</text>
<text x="74" y="618.8" font-size="17.2" font-weight="normal" fill="#000" text-anchor="start" >(Lean Map)</text>
<rect x="248.2" y="557.5" width="345.7" height="68.89999999999998" rx="11" fill="#fdedf1" stroke="#ff0000" stroke-width="2.6"/>
<text x="294.5" y="589.2" font-size="20.9" font-weight="bold" fill="#ff0000" text-anchor="start" >B:Risk Predictive System</text>
<text x="335.5" y="612.5" font-size="18.46" font-weight="normal" fill="#ff0000" text-anchor="start" >(Expert driver model)</text>
<rect x="607.9" y="557.7" width="353.70000000000005" height="68.69999999999993" rx="11" fill="#d1d1ef" stroke="#121262" stroke-width="2.6"/>
<text x="658.4" y="590" font-size="21" font-weight="bold" fill="#1c1c80" text-anchor="start" >C:Shared Control System</text>
<text x="701" y="611" font-size="17.07" font-weight="normal" fill="#1c1c80" text-anchor="start" >(Haptic control torque)</text>
</svg></body></html>
